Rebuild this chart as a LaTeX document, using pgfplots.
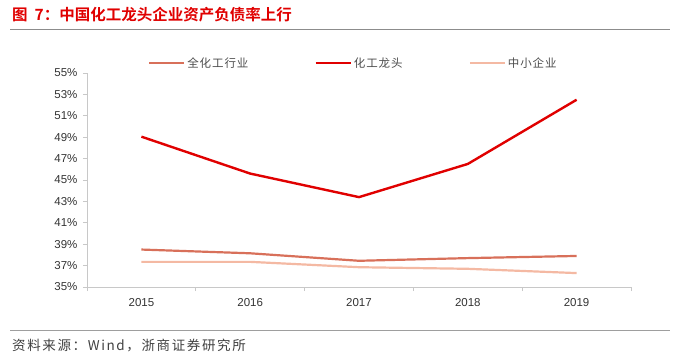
\documentclass[border=0pt]{standalone}
\usepackage{fontspec}
\setmainfont{Liberation Sans}
\newfontfamily\cjk{Noto Sans CJK SC}
\newfontfamily\cjkb{Noto Sans CJK SC Bold}
\newfontfamily\cjksp[LetterSpace=12]{Noto Sans CJK SC}
\newfontfamily\cjklg[LetterSpace=8]{Noto Sans CJK SC}
\usepackage{pgfplots}
\pgfplotsset{compat=1.18}
\definecolor{cAll}{HTML}{D8705A}
\definecolor{cLead}{HTML}{E00000}
\definecolor{cSmall}{HTML}{F4B9A3}
\definecolor{axgray}{HTML}{C8C8C8}
\definecolor{txt}{HTML}{333333}
\begin{document}
\begin{tikzpicture}[x=1pt,y=1pt]
\useasboundingbox (0,0) rectangle (675,362);
\node[anchor=west,inner sep=0pt,text=cLead,font=\cjkb\fontsize{15.5}{17}\selectfont] at (12,347) {图\hspace{0.45em}7：中国化工龙头企业资产负债率上行};
\draw[color=black!45,line width=1.3pt] (10,332.5) -- (670,332.5);
\draw[color=black!38,line width=1.3pt] (10,31.3) -- (670,31.3);
\node[anchor=west,inner sep=0pt,text=black!75,font=\cjksp\fontsize{13.5}{15}\selectfont] at (12,16) {资料来源：Wind，浙商证券研究所};
\begin{axis}[
  at={(87pt,75pt)}, anchor=south west,
  scale only axis, width=544pt, height=214pt,
  xmin=-0.5, xmax=4.5, ymin=35, ymax=55,
  axis x line*=bottom, axis y line*=left,
  axis line style={axgray, line width=0.8pt},
  xtick={0,1,2,3,4},
  xticklabels={2015,2016,2017,2018,2019},
  minor xtick={-0.5,0.5,1.5,2.5,3.5,4.5},
  ytick={35,37,...,55},
  yticklabel={\pgfmathprintnumber{\tick}\%},
  tick align=outside,
  major x tick style={draw=none},
  minor x tick style={axgray, line width=0.8pt},
  major y tick style={axgray, line width=0.8pt},
  major tick length=4pt, minor tick length=4pt,
  tick label style={font=\fontsize{11.5}{13}\selectfont, text=txt},
  /pgf/number format/assume math mode=true,
  xticklabel style={yshift=-4pt},
  yticklabel style={xshift=-2pt},
  legend columns=3,
  legend style={at={(0.112,1.047)}, anchor=west, draw=none, fill=none, inner sep=0pt,
    font=\cjklg\fontsize{11.5}{13}\selectfont, text=black!70,
    /tikz/every even column/.append style={column sep=64pt}},
  legend image code/.code={\draw[#1] (0pt,0pt) -- (35pt,0pt);},
  clip=false,
]
\addplot[cAll, line width=2.2pt] coordinates {(0,38.5) (1,38.15) (2,37.45) (3,37.7) (4,37.9)};
\addlegendentry{全化工行业}
\addplot[cLead, line width=2.4pt] coordinates {(0,49.05) (1,45.6) (2,43.4) (3,46.5) (4,52.5)};
\addlegendentry{化工龙头}
\addplot[cSmall, line width=2.2pt] coordinates {(0,37.35) (1,37.35) (2,36.85) (3,36.7) (4,36.3)};
\addlegendentry{中小企业}
\end{axis}
\end{tikzpicture}
\end{document}
